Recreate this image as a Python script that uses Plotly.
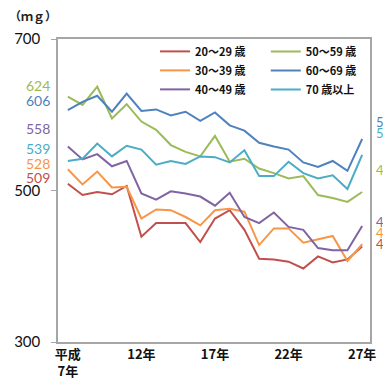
import plotly.graph_objects as go

years = list(range(7, 28))  # 平成7年 .. 平成27年
tick_vals = [7, 12, 17, 22, 27]
tick_text = ["平成<br>7年", "12年", "17年", "22年", "27年"]

names = ["20～29 歳", "30～39 歳", "40～49 歳", "50～59 歳", "60～69 歳", "70 歳以上"]
colors = ["#C0504D", "#F79646", "#8064A2", "#9BBB59", "#4F81BD", "#4BACC6"]

age20 = [509, 494, 498, 495, 506, 439, 457, 457, 457, 432, 463, 474, 448, 410, 409, 406, 397, 413, 405, 409, 426]
age30 = [528, 508, 525, 504, 505, 463, 475, 474, 465, 454, 474, 476, 472, 428, 450, 450, 431, 435, 440, 407, 429]
age40 = [558, 541, 548, 532, 539, 496, 488, 499, 496, 492, 480, 497, 465, 457, 471, 452, 448, 424, 421, 421, 453]
age50 = [624, 613, 637, 595, 614, 591, 580, 560, 551, 545, 572, 538, 542, 529, 523, 516, 519, 494, 490, 485, 498]
age60 = [606, 617, 625, 604, 628, 605, 607, 599, 604, 592, 603, 586, 579, 563, 558, 554, 537, 531, 539, 526, 568]
age70 = [539, 542, 562, 545, 559, 554, 534, 539, 535, 545, 544, 537, 553, 519, 519, 538, 523, 516, 520, 502, 547]

series = [age20, age30, age40, age50, age60, age70]
# legend group per column
legend_ids = ["legend", "legend", "legend", "legend2", "legend2", "legend2"]
# pixel offsets of the coloured value labels (style only)
left_shift = [6, 6, 18, 11, 10, 12]
right_shift = [3, 11, 4, 22, 17, 22]

fig = go.Figure()
for name, col, vals, lg in zip(names, colors, series, legend_ids):
    fig.add_trace(go.Scatter(
        x=years, y=vals, mode="lines", name=name,
        line=dict(color=col, width=2), legend=lg,
    ))

annotations = []
for col, vals, ls, rs in zip(colors, series, left_shift, right_shift):
    annotations.append(dict(
        x=-0.02, xref="paper", y=vals[0], yref="y", yshift=ls,
        text=str(vals[0]), showarrow=False, xanchor="right", yanchor="middle",
        font=dict(family="Lato", size=14, color=col),
    ))
    annotations.append(dict(
        x=1.012, xref="paper", y=vals[-1], yref="y", yshift=rs,
        text=str(vals[-1]), showarrow=False, xanchor="left", yanchor="middle",
        font=dict(family="Lato", size=13, color=col),
    ))
annotations.append(dict(
    x=-0.165, xref="paper", y=1.076, yref="paper",
    text="（ｍｇ）", showarrow=False, xanchor="left", yanchor="middle",
    font=dict(family="Noto Sans CJK JP", size=12, color="#222", weight=700),
))

legend_style = dict(
    orientation="v", bgcolor="rgba(0,0,0,0)", borderwidth=0,
    font=dict(family="Noto Sans CJK JP", size=11, color="#111", weight=700),
    yanchor="top", xanchor="left", tracegroupgap=0,
)

fig.update_layout(
    width=383, height=390,
    margin=dict(l=58, r=7, t=39, b=48),
    paper_bgcolor="white", plot_bgcolor="white",
    showlegend=True,
    legend=dict(x=0.311, y=1.007, **legend_style),
    legend2=dict(x=0.666, y=1.007, **legend_style),
    annotations=annotations,
    xaxis=dict(
        range=[6.333, 27.533], tickmode="array", tickvals=tick_vals, ticktext=tick_text,
        showgrid=False, zeroline=False, showline=True, linecolor="#A6A6A6", linewidth=1.5,
        mirror=True, ticks="",
        tickfont=dict(family="Noto Sans CJK JP", size=13, color="#111", weight=700),
    ),
    yaxis=dict(
        range=[300, 700], tickmode="array", tickvals=[300, 500, 700],
        showgrid=False, zeroline=False, showline=True, linecolor="#A6A6A6", linewidth=1.5,
        mirror=True, ticks="outside", ticklen=5, tickcolor="#A6A6A6",
        tickfont=dict(family="Lato", size=15, color="#111"),
        ticklabelstandoff=8,
    ),
)

fig.write_html("out.html")
